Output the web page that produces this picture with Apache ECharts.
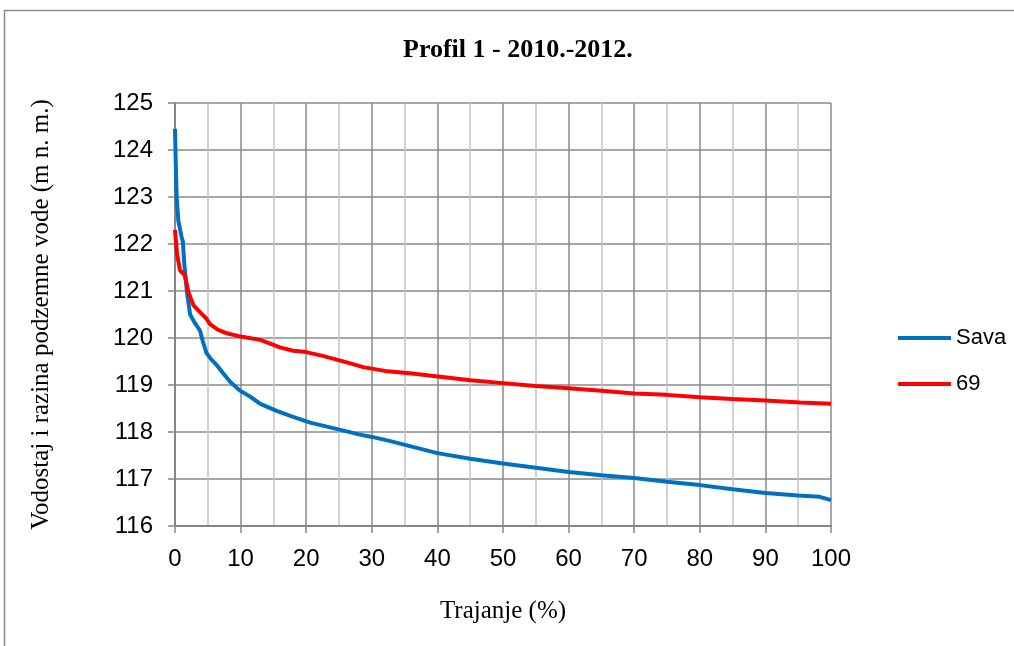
<!DOCTYPE html>
<html>
<head>
<meta charset="utf-8">
<script src="https://cdn.jsdelivr.net/npm/echarts@6/dist/echarts.min.js"></script>
<style>
  html, body { margin: 0; padding: 0; background: #fff; }
  #chart { width: 1014px; height: 646px; }
</style>
</head>
<body>
<div id="chart"></div>
<script>
// Trajanje (%) and water level (m n. m.)
const savaX = [0, 0.1, 0.25, 0.5, 1.0, 1.2, 1.4, 1.8, 2.3, 2.9, 3.8, 4.3, 4.8, 5.5, 6.5, 7.4, 8.4, 9.9, 11.5, 13, 15.5, 18, 20.6, 23, 25.7, 28, 30.2, 33, 35.8, 40, 45, 50, 55, 60, 65, 70, 75, 80, 85, 90, 95, 98.3, 100]
const savaY = [124.45, 123.8, 123.0, 122.5, 122.15, 122.05, 121.6, 121.0, 120.5, 120.35, 120.16, 119.9, 119.68, 119.55, 119.4, 119.24, 119.07, 118.88, 118.75, 118.6, 118.45, 118.32, 118.2, 118.12, 118.03, 117.95, 117.89, 117.8, 117.7, 117.55, 117.43, 117.33, 117.24, 117.15, 117.08, 117.02, 116.94, 116.87, 116.78, 116.7, 116.65, 116.62, 116.55]

const p69X = [0, 0.3, 0.76, 1.5, 1.8, 2.1, 2.8, 3.8, 4.8, 5.3, 6.5, 7.9, 10, 13, 14.5, 16, 18, 20, 22.5, 25.2, 27, 28.7, 32, 35.8, 40.1, 45, 50, 55, 60, 65, 70, 75, 80, 85, 90, 95.3, 100]
const p69Y = [122.3, 121.8, 121.44, 121.33, 121.3, 120.95, 120.7, 120.55, 120.41, 120.3, 120.18, 120.1, 120.03, 119.96, 119.88, 119.8, 119.73, 119.7, 119.62, 119.52, 119.45, 119.38, 119.3, 119.25, 119.18, 119.1, 119.04, 118.98, 118.93, 118.88, 118.82, 118.79, 118.74, 118.7, 118.67, 118.63, 118.6]

const pairs = (xs, ys) => xs.map((x, i) => [x, ys[i]])

let Charts = echarts.init(document.getElementById('chart'))
Charts.setOption({
    backgroundColor: '#fff',
    animation: false,
    title: {
        text: 'Profil 1 - 2010.-2012.',
        left: 398,
        top: 32,
        textStyle: {
            fontFamily: 'Liberation Serif',
            fontWeight: 'bold',
            fontSize: 26,
            color: '#000'
        }
    },
    graphic: [{
        type: 'rect',
        shape: { x: 4.5, y: 10.5, width: 1020, height: 650 },
        style: { fill: 'none', stroke: '#8c8c8c', lineWidth: 1.5 },
        silent: true,
        z: -1
    }],
    legend: {
        orient: 'vertical',
        left: 893,
        top: 322,
        icon: 'rect',
        itemWidth: 53,
        itemHeight: 4,
        itemGap: 24,
        textStyle: {
            fontFamily: 'Liberation Sans',
            fontSize: 22,
            color: '#000'
        },
        data: ['Sava', '69']
    },
    grid: {
        left: 175,
        right: 183,
        top: 103,
        bottom: 120,
        containLabel: false
    },
    xAxis: {
        type: 'value',
        min: 0,
        max: 100,
        interval: 10,
        name: 'Trajanje (%)',
        nameLocation: 'middle',
        nameGap: 73,
        nameTextStyle: {
            fontFamily: 'Liberation Serif',
            fontSize: 25,
            color: '#000'
        },
        axisLine: { show: true, lineStyle: { color: '#868686', width: 2 } },
        axisTick: { show: true, length: 7, lineStyle: { color: '#868686', width: 1.5 } },
        axisLabel: {
            margin: 21,
            fontFamily: 'Liberation Sans',
            fontSize: 24,
            color: '#000'
        },
        splitLine: { show: true, lineStyle: { color: '#8a8a8a', width: 1.5 } },
        minorTick: { show: false, splitNumber: 2 },
        minorSplitLine: { show: true, lineStyle: { color: '#c4c4c4', width: 1.5 } }
    },
    yAxis: {
        type: 'value',
        min: 116,
        max: 125,
        interval: 1,
        name: 'Vodostaj i razina podzemne vode (m n. m.)',
        nameLocation: 'middle',
        nameGap: 121,
        nameTextStyle: {
            fontFamily: 'Liberation Serif',
            fontSize: 25,
            color: '#000'
        },
        axisLine: { show: true, lineStyle: { color: '#868686', width: 2 } },
        axisTick: { show: true, length: 7, lineStyle: { color: '#868686', width: 1.5 } },
        axisLabel: {
            margin: 22,
            fontFamily: 'Liberation Sans',
            fontSize: 24,
            color: '#000'
        },
        splitLine: { show: true, lineStyle: { color: '#8a8a8a', width: 1.5 } }
    },
    series: [{
        name: 'Sava',
        type: 'line',
        data: pairs(savaX, savaY),
        symbol: 'none',
        lineStyle: { color: '#0070c0', width: 4 },
        itemStyle: { color: '#0070c0' }
    }, {
        name: '69',
        type: 'line',
        data: pairs(p69X, p69Y),
        symbol: 'none',
        lineStyle: { color: '#ff0000', width: 4 },
        itemStyle: { color: '#ff0000' }
    }]
})
</script>
</body>
</html>
